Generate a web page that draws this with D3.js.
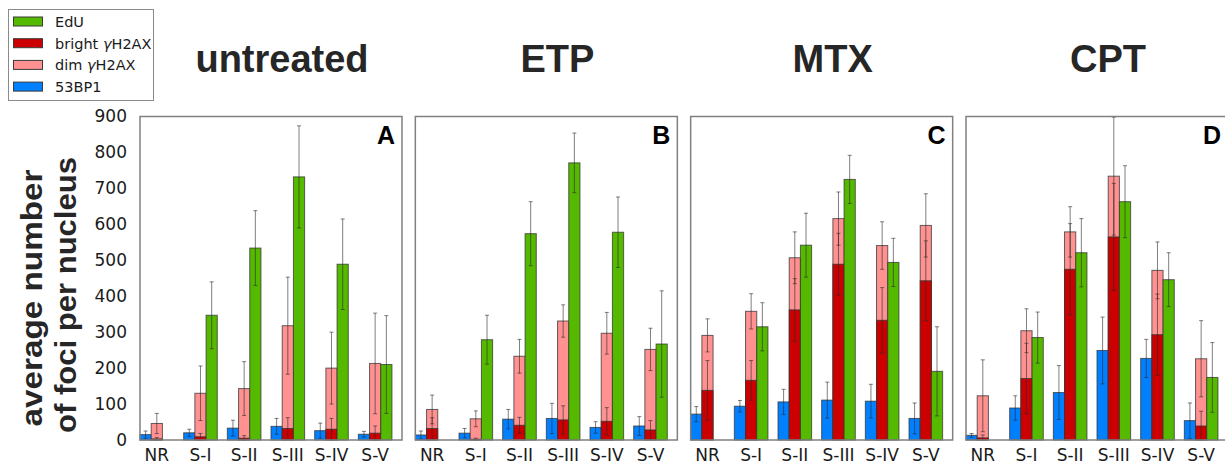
<!DOCTYPE html>
<html>
<head>
<meta charset="utf-8">
<title>average number of foci per nucleus</title>
<script src="https://d3js.org/d3.v7.min.js"></script>
<style>
  body { margin:0; background:#fff; }
  svg text { font-family:"DejaVu Sans", sans-serif; fill:#1a1a1a; }
  .title { font-family:"Liberation Sans", Arial, sans-serif; font-weight:bold; font-size:38px; fill:#262626; }
  .letter { font-family:"Liberation Sans", Arial, sans-serif; font-weight:bold; font-size:25px; fill:#000; }
  .ylabel { font-family:"Liberation Sans", Arial, sans-serif; font-weight:bold; font-size:29px; fill:#262626; }
  .frame { fill:none; stroke:#808080; stroke-width:1.5px; }
  .bar { stroke:#333; stroke-width:1px; stroke-opacity:0.75; }
  .err { stroke:#2a2a2a; stroke-width:1px; stroke-opacity:0.6; }
</style>
</head>
<body>
<svg width="1225" height="466"></svg>
<script>

var categories = ["NR", "S-I", "S-II", "S-III", "S-IV", "S-V"];
var treatments = ["untreated", "ETP", "MTX", "CPT"];
var panelLetters = ["A", "B", "C", "D"];
var yTicks = [0, 100, 200, 300, 400, 500, 600, 700, 800, 900];

// one row per treatment, one value per category
var bp1 = [[15, 20, 33, 38, 26, 16],
           [14, 19, 58, 60, 35, 39],
           [72, 94, 106, 111, 108, 60],
           [13, 89, 132, 249, 227, 54]];
var bp1Err = [[10, 10, 22, 22, 21, 8],
              [11, 13, 27, 42, 16, 26],
              [21, 16, 35, 50, 47, 43],
              [5, 34, 75, 93, 53, 49]];

var bright = [[3, 9, 5, 32, 30, 19],
              [32, 2, 41, 56, 52, 28],
              [138, 166, 362, 489, 333, 443],
              [6, 171, 475, 565, 293, 39]];
var brightErr = [[4, 9, 7, 30, 30, 20],
                 [30, 3, 22, 39, 38, 26],
                 [83, 55, 87, 86, 91, 111],
                 [8, 98, 127, 149, 113, 41]];

var dim = [[46, 130, 143, 318, 200, 213],
           [85, 59, 233, 331, 297, 252],
           [291, 358, 507, 616, 541, 597],
           [123, 304, 579, 734, 472, 226]];
var dimErr = [[28, 76, 75, 135, 100, 140],
              [40, 22, 47, 45, 58, 59],
              [46, 49, 72, 74, 66, 88],
              [100, 61, 70, 164, 79, 106]];

var edu = [[0, 347, 534, 732, 489, 210],
           [0, 279, 574, 771, 578, 267],
           [0, 315, 542, 725, 494, 191],
           [0, 285, 521, 663, 446, 174]];
var eduErr = [[0, 93, 104, 142, 126, 136],
              [0, 68, 89, 83, 98, 148],
              [0, 67, 89, 67, 67, 124],
              [0, 71, 95, 100, 75, 97]];

var legendItems = [
  {name: "EdU", color: "#55b900"},
  {name: "bright ", gamma: true, color: "#cc0000"},
  {name: "dim ", gamma: true, color: "#ff9191"},
  {name: "53BP1", color: "#0080ff"}
];

var colors = {bp1: "#0080ff", bright: "#cc0000", dim: "#ff9191", edu: "#55b900"};

var svg = d3.select("svg");

var panelX = d3.scaleBand().domain(treatments).range([140, 1228]).paddingInner(0.0484).paddingOuter(0);
var x = d3.scaleBand().domain(categories).range([0, panelX.bandwidth()])
          .paddingInner(0.23).paddingOuter(0.115).align(0);
var sub = d3.scaleBand().domain(["bp1", "gh2ax", "edu"]).range([0, x.bandwidth()]);
var y = d3.scaleLinear().domain([0, 900]).range([440, 116.5]);

function errbar(g, cx, v, e) {
  if (!e) return;
  var lo = y(Math.max(0, v - e)), hi = y(v + e);
  g.append("line").attr("class", "err").attr("x1", cx).attr("x2", cx).attr("y1", lo).attr("y2", hi);
  [lo, hi].forEach(function(yy) {
    g.append("line").attr("class", "err").attr("x1", cx - 2).attr("x2", cx + 2).attr("y1", yy).attr("y2", yy);
  });
}

treatments.forEach(function(t, p) {
  var g = svg.append("g").attr("transform", "translate(" + panelX(t) + ",0)");
  var w = sub.bandwidth();

  var groups = g.selectAll("g.grp").data(categories).enter().append("g")
    .attr("class", "grp")
    .attr("transform", function(d) { return "translate(" + x(d) + ",0)"; });

  groups.each(function(c, i) {
    var gg = d3.select(this);
    var series = [
      {key: "bp1", v: bp1[p][i], col: colors.bp1},
      {key: "gh2ax", v: dim[p][i], col: colors.dim},
      {key: "gh2ax", v: bright[p][i], col: colors.bright},
      {key: "edu", v: edu[p][i], col: colors.edu}
    ];
    gg.selectAll("rect").data(series).enter().append("rect")
      .attr("class", "bar")
      .attr("x", function(d) { return sub(d.key); })
      .attr("width", w)
      .attr("y", function(d) { return y(d.v); })
      .attr("height", function(d) { return y(0) - y(d.v); })
      .style("fill", function(d) { return d.col; });

    errbar(gg, sub("bp1") + w / 2, bp1[p][i], bp1Err[p][i]);
    errbar(gg, sub("gh2ax") + w / 2, dim[p][i], dimErr[p][i]);
    errbar(gg, sub("gh2ax") + w / 2, bright[p][i], brightErr[p][i]);
    errbar(gg, sub("edu") + w / 2, edu[p][i], eduErr[p][i]);
  });

  g.append("rect").attr("class", "frame")
    .attr("x", 0).attr("y", y(900)).attr("width", panelX.bandwidth()).attr("height", y(0) - y(900));

  var xa = g.append("g").attr("transform", "translate(0," + y(0) + ")")
    .call(d3.axisBottom(x).tickSize(0).tickPadding(9));
  xa.select(".domain").remove();
  xa.selectAll("text").style("font-size", "17px").style("font-family", "DejaVu Sans").style("fill", "#1a1a1a");

  g.append("text").attr("class", "letter")
    .attr("x", panelX.bandwidth() - 7).attr("y", y(900) + 27)
    .attr("text-anchor", "end").text(panelLetters[p]);

  svg.append("text").attr("class", "title")
    .attr("x", panelX(t) + panelX.bandwidth() / 2 + 11).attr("y", 72)
    .attr("text-anchor", "middle").text(t);
});

var ya = svg.append("g").attr("transform", "translate(140,0)")
  .call(d3.axisLeft(y).tickValues(yTicks).tickSize(0).tickPadding(13));
ya.select(".domain").remove();
ya.selectAll("text").style("font-size", "17px").style("font-family", "DejaVu Sans").style("fill", "#1a1a1a");

svg.append("text").attr("class", "ylabel")
  .attr("transform", "translate(42,298) rotate(-90)")
  .attr("text-anchor", "middle")
  .attr("textLength", 257).attr("lengthAdjust", "spacingAndGlyphs")
  .text("average number");
svg.append("text").attr("class", "ylabel")
  .attr("transform", "translate(76,295) rotate(-90)")
  .attr("text-anchor", "middle")
  .attr("textLength", 276).attr("lengthAdjust", "spacingAndGlyphs")
  .text("of foci per nucleus");

// legend
var lg = svg.append("g");
lg.append("rect").attr("x", 8.5).attr("y", 9.5).attr("width", 145).attr("height", 91)
  .style("fill", "#fff").style("stroke", "#8a8a8a").style("stroke-width", 1);
var rows = lg.selectAll("g.row").data(legendItems).enter().append("g")
  .attr("class", "row")
  .attr("transform", function(d, i) { return "translate(0," + (17 + i * 21.7) + ")"; });
rows.append("rect").attr("x", 13.5).attr("y", 0).attr("width", 29).attr("height", 9)
  .style("fill", function(d) { return d.color; })
  .style("stroke", "#3a3a3a").style("stroke-width", 1);
var lt = rows.append("text").attr("x", 55).attr("y", 10).style("font-size", "14.5px");
lt.append("tspan").text(function(d) { return d.name; });
lt.filter(function(d) { return d.gamma; }).append("tspan").style("font-style", "italic").text("\u03b3");
lt.filter(function(d) { return d.gamma; }).append("tspan").text("H2AX");

</script>
</body>
</html>
